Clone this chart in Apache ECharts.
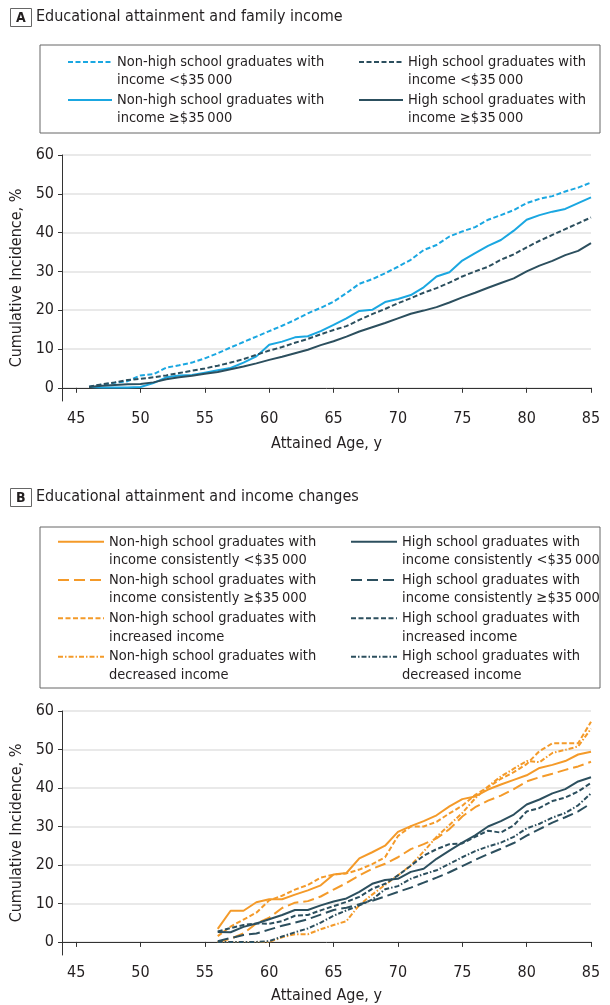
<!DOCTYPE html>
<html><head><meta charset="utf-8">
<script src="https://cdn.jsdelivr.net/npm/echarts@6/dist/echarts.min.js"></script>
<style>html,body{margin:0;padding:0;background:#fff}#c{width:610px;height:1005px}</style>
</head><body><div id="c"></div>
<script>
// ---------- Data ----------
const agesA = [46,47,48,49,50,51,52,53,54,55,56,57,58,59,60,61,62,63,64,65,66,67,68,69,70,71,72,73,74,75,76,77,78,79,80,81,82,83,84,85];
const nhsLowA  = [0.3,0.8,1.3,1.7,3.2,3.5,5.2,5.8,6.5,7.6,8.9,10.4,11.8,13.2,14.6,16,17.5,19.2,20.6,22.2,24.4,26.8,28,29.5,31.2,33,35.5,36.8,39,40.3,41.4,43.3,44.5,45.8,47.6,48.7,49.4,50.6,51.6,52.9];
const nhsHighA = [0.2,0.1,0.1,0.1,0.2,1.2,2.7,3.2,3.3,3.9,4.5,5.1,6.5,8.1,11.1,11.9,13,13.3,14.6,16.2,17.9,19.8,20.1,22.1,22.9,23.9,25.9,28.7,29.8,32.8,34.7,36.6,38.1,40.5,43.3,44.5,45.4,46.1,47.6,49.1];
const hsLowA   = [0.3,0.9,1.4,2,2.3,2.7,3.2,3.8,4.4,5,5.7,6.5,7.4,8.5,9.6,10.5,11.6,12.6,13.8,14.9,15.9,17.5,19,20.3,21.8,23.1,24.5,25.7,27.1,28.7,30,31.2,33,34.4,36.2,37.9,39.4,40.9,42.4,43.9];
const hsHighA  = [0.2,0.5,0.7,0.9,1,1.4,2.2,2.7,3.1,3.6,4.1,4.8,5.5,6.3,7.2,8,8.9,9.8,11,12,13.2,14.5,15.6,16.7,17.9,19.1,19.9,20.8,22,23.3,24.5,25.8,27,28.2,30,31.5,32.7,34.2,35.3,37.3];

const agesB = [56,57,58,59,60,61,62,63,64,65,66,67,68,69,70,71,72,73,74,75,76,77,78,79,80,81,82,83,84,85];
const nhsConsLowB  = [3.4,8.1,8.1,10.3,11.1,11.1,12.3,13.4,14.7,17.5,17.9,21.7,23.3,25,28.6,30.1,31.4,32.9,35.2,37.1,37.8,39.6,40.9,42.1,43.3,45.2,46,47,48.7,49.4];
const nhsConsHighB = [0,0.8,2.2,4.8,6.3,8.8,10.2,10.6,11.8,13.6,15.3,17.3,19,20.3,22,24.1,25.4,26.9,29.3,32.6,35,36.7,38,39.7,41.7,42.8,43.7,44.7,45.6,46.8];
const nhsIncB      = [1.5,4,5.8,7.6,10.8,12,13.6,14.8,16.7,17.5,17.8,18.8,20.2,22,27.5,30,30,31.2,33.4,35.4,38.2,40.2,42.4,44.1,46.2,49.6,51.6,51.6,51.6,57.2];
const nhsDecB      = [0,0,0,0,0,1.2,2,2,3.3,4.4,5.4,9.6,12.3,14.8,17.3,19.9,23.5,27.3,30.4,33.5,37.3,40.4,43,45,47,46.7,49.1,49.9,50.8,55.4];
const hsConsLowB   = [2.6,2.5,3.9,4.8,5.9,7,8.3,8.3,9.5,10.5,11.3,13,15.1,16.1,16.4,18.2,19,21.6,23.7,25.8,27.7,30,31.4,33.1,35.7,37,38.6,39.7,41.7,42.8];
const hsConsHighB  = [0.2,1,1.8,2.2,3.2,4.2,5,5.9,7.1,8.3,8.9,9.8,10.7,11.8,13,14.1,15.4,16.7,18.1,19.7,21.3,22.8,24.2,25.7,27.6,29.3,31,32.4,33.9,36];
const hsIncB       = [2.7,3.6,4.4,4.8,4.7,5.4,6.8,7,8.2,9.3,10.4,11.7,13.8,15.1,17.3,19.8,22.4,24.1,25.4,25.6,27.3,28.9,28.4,30.3,33.9,34.8,36.6,37.5,39.1,41.3];
const hsDecB       = [0,0,0,0,0.2,1.4,2.5,3.5,5,6.8,8.2,9.5,11,13.7,14.5,16.4,17.6,18.6,20.3,22,23.6,24.8,25.8,27.3,29.5,30.7,32.3,33.5,35.5,38.6];

const xTicks = [45,50,55,60,65,70,75,80,85];
const yTicks = [0,10,20,30,40,50,60];

const namesA = [
  'Non-high school graduates with\nincome <$35\u2009000',
  'Non-high school graduates with\nincome \u2265$35\u2009000',
  'High school graduates with\nincome <$35\u2009000',
  'High school graduates with\nincome \u2265$35\u2009000'
];
const namesB = [
  'Non-high school graduates with\nincome consistently <$35\u2009000',
  'Non-high school graduates with\nincome consistently \u2265$35\u2009000',
  'Non-high school graduates with\nincreased income',
  'Non-high school graduates with\ndecreased income',
  'High school graduates with\nincome consistently <$35\u2009000',
  'High school graduates with\nincome consistently \u2265$35\u2009000',
  'High school graduates with\nincreased income',
  'High school graduates with\ndecreased income'
];

// ---------- Styles ----------
const FONT = '"Liberation Sans Narrow","DejaVu Sans Condensed",sans-serif';
const BLUE = '#1aa7e1', DARK = '#2c4f5e', ORANGE = '#f49a29';
const SHORT = [5, 2.5], LONG = [11, 5], DASHDOT = [5, 2, 1.5, 2];
const TXT = '#231f20';

const pair = (xs, ys) => xs.map((x, i) => [x, ys[i]]);

function mkSeries(name, data, idx, color, type) {
  return {
    type: 'line', name, data, xAxisIndex: idx, yAxisIndex: idx,
    symbol: 'none', showSymbol: false, smooth: false, animation: false,
    lineStyle: { color, width: 2, type },
    itemStyle: { color }
  };
}

function xAx(gi, gap) {
  return {
    gridIndex: gi, type: 'value', min: 43.9, max: 85,
    axisLine: { show: true, lineStyle: { color: '#333', width: 1 } },
    axisTick: { show: true, length: 5, customValues: xTicks, lineStyle: { color: '#333' } },
    axisLabel: { customValues: xTicks, margin: 10, fontFamily: FONT, fontSize: 16, color: TXT },
    splitLine: { show: false },
    name: 'Attained Age, y', nameLocation: 'middle', nameGap: gap,
    nameTextStyle: { fontFamily: FONT, fontSize: 16, color: TXT }
  };
}
function yAx(gi) {
  return {
    gridIndex: gi, type: 'value', min: -3.4, max: 60,
    axisLine: { show: true, lineStyle: { color: '#333', width: 1 } },
    axisTick: { show: true, length: 4, customValues: yTicks, lineStyle: { color: '#333' } },
    axisLabel: { customValues: yTicks, margin: 8, fontFamily: FONT, fontSize: 16, color: TXT },
    splitLine: { show: true, lineStyle: { color: '#e2e2e2', width: 1.5 } },
    name: 'Cumulative Incidence, %', nameLocation: 'middle', nameGap: 35, nameRotate: 90,
    nameTextStyle: { fontFamily: FONT, fontSize: 16, color: TXT }
  };
}

function legend(names, left, top, iw, lh, gap) {
  return {
    orient: 'vertical', left, top, padding: 0, itemGap: gap,
    itemWidth: iw, itemHeight: 10, selectedMode: false,
    itemStyle: { opacity: 0 },
    data: names,
    formatter: n => '\n' + n,
    textStyle: { fontFamily: FONT, fontSize: 14.5, lineHeight: lh, color: TXT }
  };
}

const series = [
  mkSeries(namesA[0], pair(agesA, nhsLowA), 0, BLUE, SHORT),
  mkSeries(namesA[1], pair(agesA, nhsHighA), 0, BLUE, 'solid'),
  mkSeries(namesA[2], pair(agesA, hsLowA), 0, DARK, SHORT),
  mkSeries(namesA[3], pair(agesA, hsHighA), 0, DARK, 'solid'),
  mkSeries(namesB[0], pair(agesB, nhsConsLowB), 1, ORANGE, 'solid'),
  mkSeries(namesB[1], pair(agesB, nhsConsHighB), 1, ORANGE, LONG),
  mkSeries(namesB[2], pair(agesB, nhsIncB), 1, ORANGE, SHORT),
  mkSeries(namesB[3], pair(agesB, nhsDecB), 1, ORANGE, DASHDOT),
  mkSeries(namesB[4], pair(agesB, hsConsLowB), 1, DARK, 'solid'),
  mkSeries(namesB[5], pair(agesB, hsConsHighB), 1, DARK, LONG),
  mkSeries(namesB[6], pair(agesB, hsIncB), 1, DARK, SHORT),
  mkSeries(namesB[7], pair(agesB, hsDecB), 1, DARK, DASHDOT)
];

const chart = echarts.init(document.getElementById('c'), null, { renderer: 'canvas' });
chart.setOption({
  backgroundColor: '#fff',
  animation: false,
  title: [
    { text: 'A', left: 10, top: 8, padding: [3, 6, 2, 6], borderColor: '#666', borderWidth: 1,
      textStyle: { fontFamily: FONT, fontSize: 14, fontWeight: 'bold', color: TXT } },
    { text: 'Educational attainment and family income', left: 36, top: 9, padding: 0,
      textStyle: { fontFamily: FONT, fontSize: 16, fontWeight: 'normal', color: TXT } },
    { text: 'B', left: 10, top: 488, padding: [3, 6, 2, 6], borderColor: '#666', borderWidth: 1,
      textStyle: { fontFamily: FONT, fontSize: 14, fontWeight: 'bold', color: TXT } },
    { text: 'Educational attainment and income changes', left: 36, top: 489, padding: 0,
      textStyle: { fontFamily: FONT, fontSize: 16, fontWeight: 'normal', color: TXT } }
  ],
  graphic: [
    { type: 'rect', shape: { x: 40, y: 45, width: 560, height: 88 }, style: { fill: 'none', stroke: '#666', lineWidth: 1 } },
    { type: 'rect', shape: { x: 40, y: 527, width: 560, height: 161 }, style: { fill: 'none', stroke: '#666', lineWidth: 1 } }
  ],
  legend: [
    legend([namesA[0], namesA[1]], 67, 35, 44, 18, -16),
    legend([namesA[2], namesA[3]], 358, 35, 44, 18, -16),
    legend([namesB[0], namesB[1], namesB[2], namesB[3]], 57, 514, 46, 18.5, -17.2),
    legend([namesB[4], namesB[5], namesB[6], namesB[7]], 350, 514, 46, 18.5, -17.2)
  ],
  grid: [
    { left: 62, top: 155, width: 529, height: 246, containLabel: false },
    { left: 62, top: 711, width: 529, height: 246, containLabel: false }
  ],
  xAxis: [xAx(0, 35), xAx(1, 33)],
  yAxis: [yAx(0), yAx(1)],
  series
});
</script>
</body></html>
